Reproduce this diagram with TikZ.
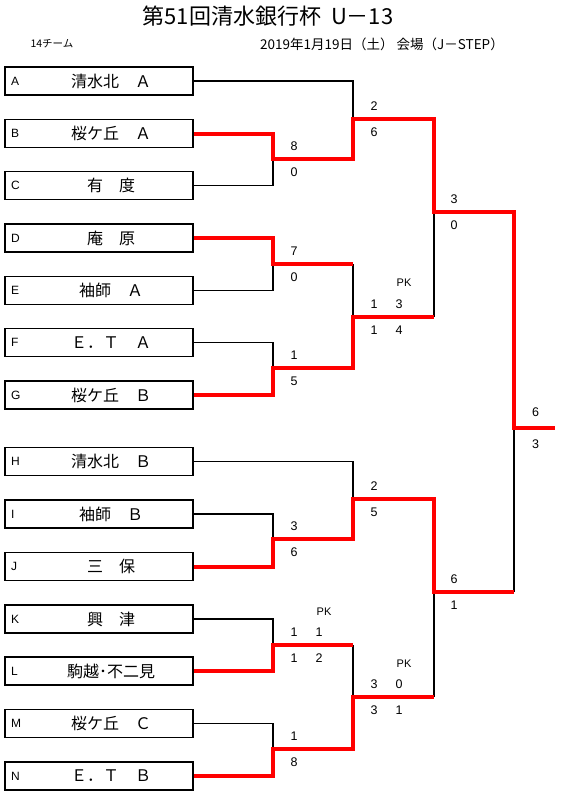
\documentclass[tikz,border=0pt]{standalone}
\usepackage{fontspec}
\setmainfont{Liberation Sans}
\newfontfamily\jp{Noto Sans CJK JP}
\begin{document}
\begin{tikzpicture}[x=1pt,y=-1pt,
  team/.style={draw, line width=1.5, minimum width=188, minimum height=28, inner sep=0},
  lett/.style={font=\fontsize{12}{12}\selectfont, anchor=west, inner sep=0},
  nm/.style={font=\jp\fontsize{16}{16}\selectfont, inner sep=0},
  sc/.style={font=\fontsize{12.5}{13}\selectfont, inner sep=0},
  pk/.style={font=\fontsize{11}{11}\selectfont, inner sep=0},
  up/.style={xshift=21pt, yshift=12.5pt},
  dn/.style={xshift=21pt, yshift=-13.5pt},
  up2/.style={xshift=46pt, yshift=12.5pt},
  dn2/.style={xshift=46pt, yshift=-13.5pt},
  pkpos/.style={xshift=51pt, yshift=33.5pt},
  thin/.style={draw=black, line width=1.2, line join=miter},
  win/.style={draw=red, line width=4, line join=miter}]
\useasboundingbox (0,0) rectangle (567,799);
% titles
\node[font=\jp\fontsize{22}{22}\selectfont, inner sep=0] (title) at (268,16) {第51回清水銀行杯\ \ U－13};
\node[font=\jp\fontsize{10.5}{11}\selectfont, inner sep=0] (cnt) at (52,44) {14チーム};
\node[font=\jp\fontsize{13.5}{14}\selectfont, inner sep=0] (date) at (382,44) {2019年1月19日（土）\ 会場（J－STEP）};
% teams
\foreach \id/\y/\name in {A/81/清水北　Ａ, B/133.7/桜ケ丘　Ａ, C/185.7/有　度, D/238/庵　原, E/290.5/袖師　Ａ, F/342.7/Ｅ．Ｔ　Ａ, G/395/桜ケ丘　Ｂ, H/461.7/清水北　Ｂ, I/514/袖師　Ｂ, J/566.7/三　保, K/619/興　津, L/671/駒越･不二見, M/723.5/桜ケ丘　Ｃ, N/776/Ｅ．Ｔ　Ｂ}{
  \node[team] (\id) at (99,\y) {};
  \node[lett] (\id l) at (11,\y) {\id};
  \node[nm] (\id n) at (111,\y) {\name};
}
% junctions
\coordinate (m1) at (273,159);
\coordinate (m2) at (273,264);
\coordinate (m3) at (273,368);
\coordinate (q1) at (353,119);
\coordinate (q2) at (353,316.7);
\coordinate (s1) at (434,212);
\coordinate (f) at (514,428);
\coordinate (fend) at (555,428);
\coordinate (m4) at (273,539);
\coordinate (m5) at (273,645);
\coordinate (m6) at (273,749);
\coordinate (q3) at (353,499);
\coordinate (q4) at (353,697);
\coordinate (s2) at (434,592);
% losing lines
\draw[thin] (A.east) -| (q1);
\draw[thin] (C.east) -| (m1);
\draw[thin] (E.east) -| (m2);
\draw[thin] (F.east) -| (m3);
\draw[thin] (m2 -| q2) -- (q2);
\draw[thin] (s1) -- (q2 -| s1);
\draw[thin] (f) -- (s2 -| f);
\draw[thin] (H.east) -| (q3);
\draw[thin] (I.east) -| (m4);
\draw[thin] (K.east) -| (m5);
\draw[thin] (M.east) -| (m6);
\draw[thin] (m5 -| q4) -- (q4);
\draw[thin] (s2) -- (q4 -| s2);
% winning lines
\draw[win] (B.east) -| (m1) -| (q1) -| (s1) -| (f) -- (fend);
\draw[win] (D.east) -| (m2) -- (m2 -| q2);
\draw[win] (G.east) -| (m3) -| (q2) -- (q2 -| s1);
\draw[win] (J.east) -| (m4) -| (q3) -| (s2) -- (s2 -| f);
\draw[win] (L.east) -| (m5) -- (m5 -| q4);
\draw[win] (N.east) -| (m6) -| (q4) -- (q4 -| s2);
% scores
\node[sc, up] (m1u) at (m1) {8};
\node[sc, dn] (m1d) at (m1) {0};
\node[sc, up] (m2u) at (m2) {7};
\node[sc, dn] (m2d) at (m2) {0};
\node[sc, up] (m3u) at (m3) {1};
\node[sc, dn] (m3d) at (m3) {5};
\node[sc, up] (q1u) at (q1) {2};
\node[sc, dn] (q1d) at (q1) {6};
\node[sc, up] (q2u) at (q2) {1};
\node[sc, dn] (q2d) at (q2) {1};
\node[sc, up2] (q2u2) at (q2) {3};
\node[sc, dn2] (q2d2) at (q2) {4};
\node[pk, pkpos] (q2pk) at (q2) {PK};
\node[sc, xshift=20pt, yshift=13pt] (s1u) at (s1) {3};
\node[sc, xshift=20pt, yshift=-13pt] (s1d) at (s1) {0};
\node[sc, xshift=21.7pt, yshift=16pt] (fu) at (f) {6};
\node[sc, xshift=21.7pt, yshift=-16pt] (fd) at (f) {3};
\node[sc, up] (m4u) at (m4) {3};
\node[sc, dn] (m4d) at (m4) {6};
\node[sc, up] (m5u) at (m5) {1};
\node[sc, dn] (m5d) at (m5) {1};
\node[sc, up2] (m5u2) at (m5) {1};
\node[sc, dn2] (m5d2) at (m5) {2};
\node[pk, pkpos] (m5pk) at (m5) {PK};
\node[sc, up] (m6u) at (m6) {1};
\node[sc, dn] (m6d) at (m6) {8};
\node[sc, up] (q3u) at (q3) {2};
\node[sc, dn] (q3d) at (q3) {5};
\node[sc, up] (q4u) at (q4) {3};
\node[sc, dn] (q4d) at (q4) {3};
\node[sc, up2] (q4u2) at (q4) {0};
\node[sc, dn2] (q4d2) at (q4) {1};
\node[pk, pkpos] (q4pk) at (q4) {PK};
\node[sc, xshift=20pt, yshift=13pt] (s2u) at (s2) {6};
\node[sc, xshift=20pt, yshift=-13pt] (s2d) at (s2) {1};
\end{tikzpicture}
\end{document}
